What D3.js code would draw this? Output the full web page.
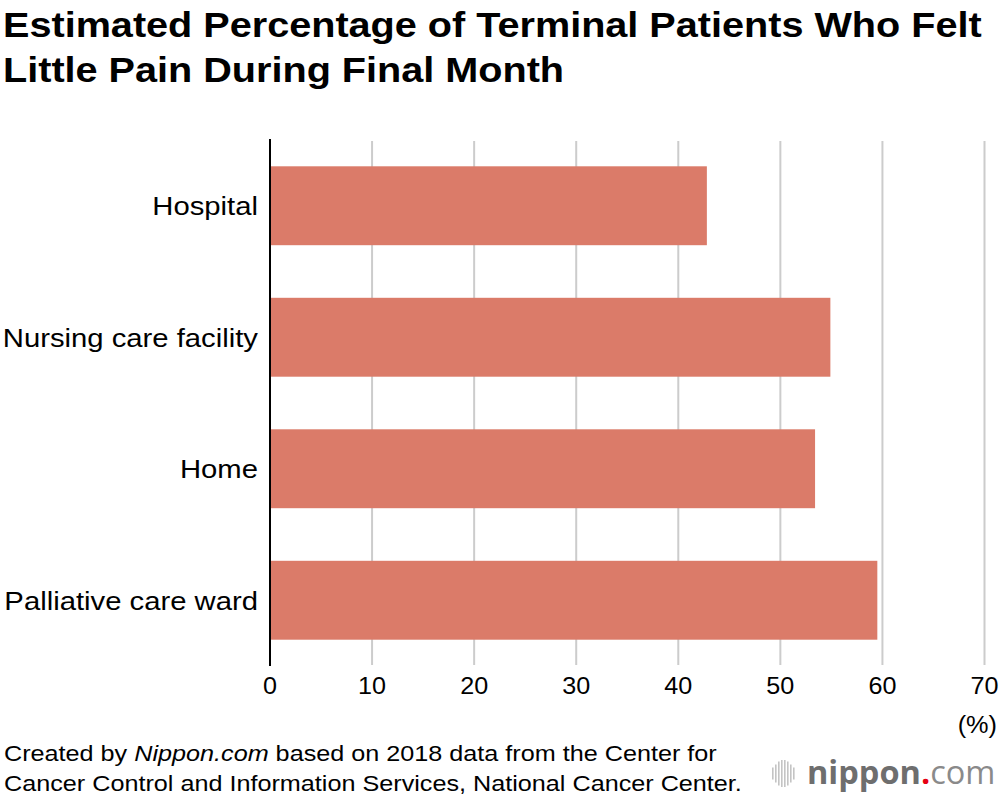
<!DOCTYPE html>
<html>
<head>
<meta charset="utf-8">
<script src="https://cdn.jsdelivr.net/npm/d3@7"></script>
<style>
body{margin:0;background:#fff;}
svg{display:block;font-family:"Liberation Sans",Arial,Helvetica,sans-serif;}
</style>
</head>
<body>
<div class="bod"></div>
<script>
// data
var places = ['Hospital','Nursing care facility','Home','Palliative care ward']
var painFree = [42.8,54.9,53.4,59.5]
var ticks = [0,10,20,30,40,50,60,70]
var titleLines = ['Estimated Percentage of Terminal Patients Who Felt','Little Pain During Final Month']
var sourceLines = [['Created by ','Nippon.com',' based on 2018 data from the Center for'],['Cancer Control and Information Services, National Cancer Center.']]

var size = {width:1000,height:796,left:270,right:984.5,top:140,bottom:666}

// the original face is wider than Liberation Sans, so stretch text sideways
let widen = (sel,k) => {
  sel.each(function(){
    let len = this.getComputedTextLength()
    d3.select(this).attr('textLength',len*k).attr('lengthAdjust','spacingAndGlyphs')
  })
}

const svg = d3.select('.bod')
  .append('svg')
  .attr('width',size.width)
  .attr('height',size.height)

//title
let title = svg.selectAll('.title')
  .data(titleLines)
  .enter()
  .append('text')
  .attr('class','title')
  .attr('x',3)
  .attr('y',(d,i)=>37+i*45)
  .attr('font-size',34.5)
  .attr('font-weight','bold')
  .attr('fill','#000')
  .text(d=>d)
widen(title,1.148)

let x = d3.scaleLinear().domain([0,70]).range([size.left,size.right])
let y = d3.scaleBand().domain(places).range([size.top,size.bottom]).paddingInner(0.4).paddingOuter(0.2)

//grid
svg.selectAll('.grid')
  .data(ticks.slice(1))
  .enter()
  .append('line')
  .attr('class','grid')
  .attr('x1',d=>x(d)).attr('x2',d=>x(d))
  .attr('y1',size.top+1).attr('y2',size.bottom-1)
  .attr('stroke','#cccccc')
  .attr('stroke-width',2)

//bars
svg.selectAll('.bar')
  .data(places)
  .enter()
  .append('rect')
  .attr('class','bar')
  .attr('x',x(0))
  .attr('y',d=>y(d))
  .attr('width',(d,i)=>x(painFree[i])-x(0))
  .attr('height',y.bandwidth())
  .attr('fill','#db7b69')

//axis line
svg.append('line')
  .attr('x1',x(0)).attr('x2',x(0))
  .attr('y1',size.top-1).attr('y2',size.bottom)
  .attr('stroke','#000')
  .attr('stroke-width',2)

//x tick labels
let tk = svg.selectAll('.tick')
  .data(ticks)
  .enter()
  .append('text')
  .attr('class','tick')
  .attr('x',d=>x(d))
  .attr('y',694)
  .attr('text-anchor','middle')
  .attr('font-size',23.5)
  .text(d=>d)
widen(tk,1.07)

let pct = svg.append('text')
  .attr('x',997).attr('y',733)
  .attr('text-anchor','end')
  .attr('font-size',23)
  .text('(%)')
widen(pct,1.1)

//y labels
let lab = svg.selectAll('.lab')
  .data(places)
  .enter()
  .append('text')
  .attr('class','lab')
  .attr('x',258)
  .attr('y',d=>y(d)+y.bandwidth()/2)
  .attr('dy','0.37em')
  .attr('text-anchor','end')
  .attr('font-size',25)
  .text(d=>d)
widen(lab,1.17)

//source
let src = svg.selectAll('.src')
  .data(sourceLines)
  .enter()
  .append('text')
  .attr('class','src')
  .attr('x',4)
  .attr('y',(d,i)=>761+i*30)
  .attr('font-size',22)
src.selectAll('tspan')
  .data(d=>d)
  .enter()
  .append('tspan')
  .attr('font-style',d=>d=='Nippon.com'?'italic':'normal')
  .text(d=>d)
widen(src,1.145)

//logo
let logo = svg.append('g').attr('transform','translate(772,760)')
let barH = [12,18,24,27,27,24,18,12]
logo.selectAll('rect')
  .data(barH)
  .enter()
  .append('rect')
  .attr('x',(d,i)=>i*3)
  .attr('y',d=>13.5-d/2)
  .attr('width',1.6)
  .attr('height',d=>d)
  .attr('fill','#c4c4c4')
let lt = logo.append('text')
  .attr('x',35).attr('y',23.5)
  .attr('font-family','"Open Sans",sans-serif')
  .attr('font-size',32.5)
  .attr('fill','#6e6e6e')
lt.append('tspan').attr('font-weight','bold').text('nippon')
lt.append('tspan').attr('fill','#e60012').attr('font-weight','bold').text('.')
lt.append('tspan').attr('font-weight','normal').attr('fill','#8a8a8a').text('com')
</script>
</body>
</html>
